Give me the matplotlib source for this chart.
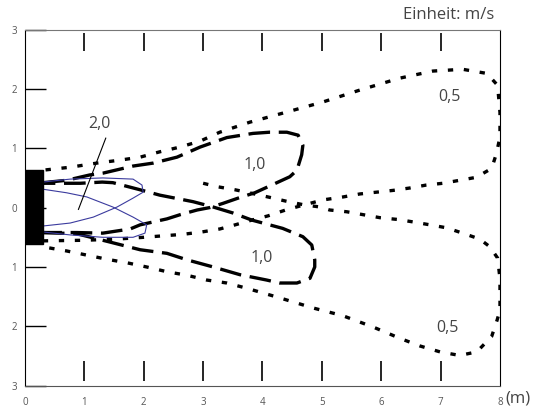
import matplotlib.pyplot as plt
from matplotlib.patches import Rectangle

plt.rcParams['font.family'] = ['Open Sans', 'DejaVu Sans']
plt.rcParams['xtick.labelcolor'] = '#555555'
plt.rcParams['ytick.labelcolor'] = '#555555'

# 0,5 m/s - obere Keule (Start an der Quelle unten, Rückkehr oben)
upper05_x = [0.3, 1.0, 1.55, 2.0, 2.66, 2.98, 3.28, 3.54, 3.82, 4.09, 4.39, 4.68, 5.02,
             5.36, 5.64, 5.92, 6.2, 6.48, 6.76, 7.04, 7.32, 7.6, 7.86, 7.94, 8.0, 8.0,
             7.96, 7.78, 7.37, 6.87, 6.31, 5.64, 5.02, 4.41, 3.79, 3.28, 2.95, 2.61,
             2.27, 1.94, 1.6, 1.21, 0.76, 0.3]
upper05_y = [-0.56, -0.55, -0.53, -0.5, -0.45, -0.41, -0.36, -0.29, -0.21, -0.14, -0.04,
             0.04, 0.13, 0.18, 0.23, 0.26, 0.29, 0.33, 0.38, 0.41, 0.46, 0.51, 0.66, 0.91,
             1.19, 1.6, 2.06, 2.26, 2.33, 2.30, 2.18, 1.98, 1.78, 1.61, 1.44, 1.27, 1.12,
             1.02, 0.94, 0.85, 0.8, 0.75, 0.68, 0.63]

# 0,5 m/s - untere Keule
lower05_x = [3.0, 3.25, 3.54, 3.82, 4.09, 4.39, 4.68, 4.97, 5.13, 5.42, 5.7, 5.98, 6.28,
             6.53, 6.82, 7.1, 7.37, 7.66, 7.83, 7.96, 8.0, 8.0, 7.95, 7.86, 7.61, 7.32,
             6.99, 6.65, 6.31, 5.86, 5.35, 4.85, 4.29, 3.74, 3.4, 3.06, 2.73, 2.39, 2.05,
             1.72, 1.38, 1.04, 0.7, 0.3]
lower05_y = [0.41, 0.35, 0.30, 0.24, 0.18, 0.11, 0.05, 0.01, -0.04, -0.07, -0.12, -0.17,
             -0.2, -0.24, -0.29, -0.34, -0.43, -0.53, -0.66, -0.85, -1.2, -1.73, -1.9,
             -2.17, -2.43, -2.49, -2.43, -2.33, -2.2, -2.01, -1.82, -1.69, -1.52, -1.36,
             -1.27, -1.22, -1.14, -1.08, -1.0, -0.93, -0.87, -0.8, -0.73, -0.66]

# 1,0 m/s - obere Keule
upper10_x = [0.3, 0.7, 1.09, 1.31, 1.82, 2.16, 2.56, 2.95, 3.4, 3.84, 4.12, 4.41, 4.6,
             4.68, 4.66, 4.58, 4.46, 4.09, 3.87, 3.59, 3.33, 3.11, 2.9, 2.61, 2.39, 1.94,
             1.77, 1.31, 0.87, 0.3]
upper10_y = [0.42, 0.46, 0.55, 0.58, 0.7, 0.75, 0.85, 1.02, 1.18, 1.25, 1.27, 1.27, 1.22,
             1.05, 0.89, 0.63, 0.52, 0.35, 0.25, 0.16, 0.07, 0.0, -0.04, -0.12, -0.19,
             -0.29, -0.36, -0.43, -0.42, -0.42]

# 1,0 m/s - untere Keule
lower10_x = [0.3, 0.87, 1.43, 1.94, 2.39, 2.73, 3.17, 3.62, 4.07, 4.29, 4.58, 4.8, 4.88,
             4.88, 4.83, 4.68, 4.34, 3.82, 3.5, 3.17, 2.83, 2.27, 1.94, 1.48, 1.3, 0.93, 0.3]
lower10_y = [-0.42, -0.44, -0.58, -0.71, -0.77, -0.88, -1.0, -1.13, -1.22, -1.27, -1.27,
             -1.19, -1.0, -0.88, -0.63, -0.49, -0.35, -0.21, -0.09, 0.01, 0.1, 0.21, 0.3,
             0.42, 0.43, 0.41, 0.41]

# 2,0 m/s - zwei Schleifen (blau)
upper20_x = [0.3, 0.76, 1.31, 1.82, 1.97, 1.99, 1.82, 1.55, 1.15, 0.76, 0.3]
upper20_y = [0.43, 0.48, 0.5, 0.48, 0.38, 0.26, 0.16, 0.01, -0.16, -0.26, -0.31]
lower20_x = [0.3, 0.7, 1.04, 1.48, 1.82, 2.05, 2.02, 1.82, 1.31, 0.76, 0.3]
lower20_y = [0.31, 0.25, 0.18, 0.01, -0.16, -0.29, -0.43, -0.5, -0.5, -0.46, -0.41]

x_ticks = [0, 1, 2, 3, 4, 5, 6, 7, 8]
y_ticks = [-3, -2, -1, 0, 1, 2, 3]
y_labels = ['3', '2', '1', '0', '1', '2', '3']

fig = plt.figure(figsize=(5.39, 4.07), dpi=100)
ax = fig.add_axes([0.0464, 0.0523, 0.8812, 0.8752])

ax.set_xlim(0, 8)
ax.set_ylim(-3, 3)
ax.set_xticks(x_ticks)
ax.set_yticks(y_ticks)
ax.set_yticklabels(y_labels)
ax.tick_params(axis='x', which='major', direction='in', length=0,
               labelsize=7, pad=8)
ax.tick_params(axis='y', which='major', direction='in', length=15, width=1.0,
               color='black', labelsize=7, pad=6)

# Skalenstriche oben und unten (innen)
xt = ax.get_xaxis_transform()
ax.vlines(x_ticks[1:-1], 0.012, 0.07, transform=xt, color='black', linewidth=1.2, zorder=4)
ax.vlines(x_ticks[1:-1], 0.94, 0.99, transform=xt, color='black', linewidth=1.2, zorder=4)

dotted = dict(color='black', linewidth=2.4, dashes=(1.6, 3.2))
dashed = dict(color='black', linewidth=2.4, dashes=(6.5, 2.6))
ax.plot(upper05_x, upper05_y, **dotted)
ax.plot(lower05_x, lower05_y, **dotted)
ax.plot(upper10_x, upper10_y, **dashed)
ax.plot(lower10_x, lower10_y, **dashed)
ax.plot(upper20_x, upper20_y, color='#3b3b9e', linewidth=0.8)
ax.plot(lower20_x, lower20_y, color='#3b3b9e', linewidth=0.8)

# Quelle
ax.add_patch(Rectangle((0, -0.61), 0.3, 1.24, color='black', zorder=3))

# Beschriftungen
txt = dict(fontsize=11.5, color='#444444', ha='center', va='center')
ax.text(1.26, 1.41, '2,0', **txt)
ax.plot([1.36, 0.9], [1.17, -0.03], color='black', linewidth=0.8)
ax.text(3.87, 0.72, '1,0', **txt)
ax.text(3.99, -0.85, '1,0', **txt)
ax.text(7.15, 1.86, '0,5', **txt)
ax.text(7.12, -2.03, '0,5', **txt)

ax.spines['top'].set_color('#777777')
ax.spines['bottom'].set_color('#555555')

fig.text(0.9165, 0.963, 'Einheit: m/s', fontsize=12, color='#444444', ha='right', va='center')
fig.text(0.937, 0.022, '(m)', fontsize=12, color='#444444', ha='left', va='center')

fig.savefig('out.png', dpi=100)
